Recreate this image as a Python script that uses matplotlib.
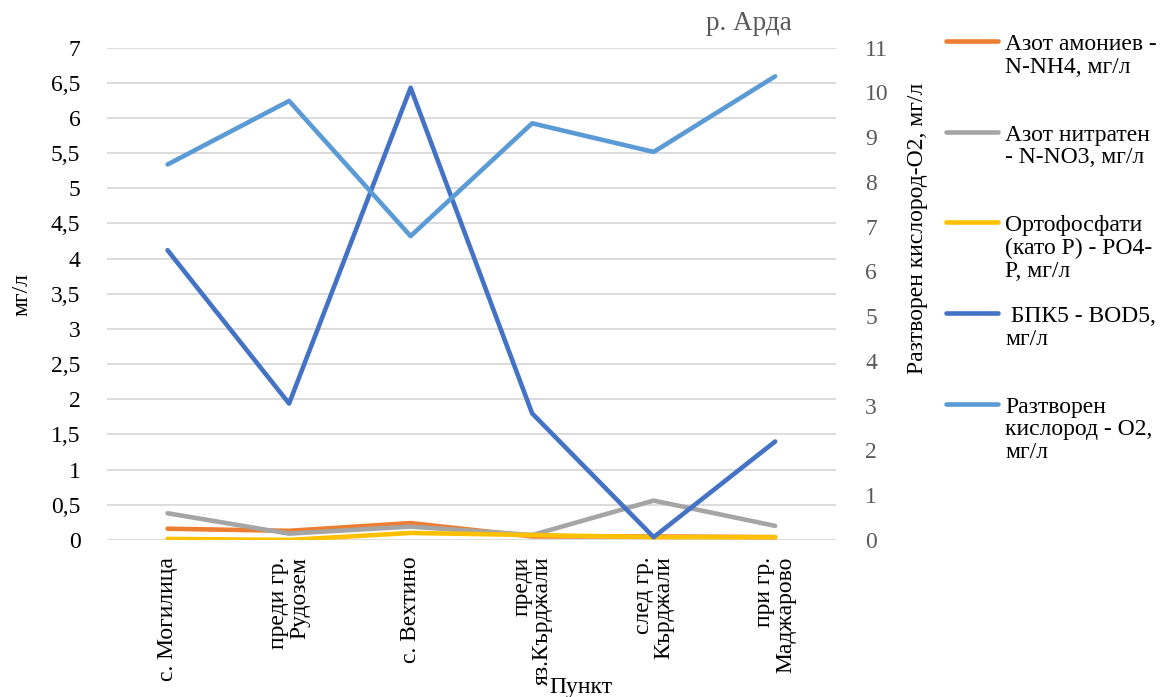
"""River Arda water quality by sampling point (two y axes)."""
import matplotlib

matplotlib.use("Agg")
import matplotlib.pyplot as plt
from matplotlib.lines import Line2D
from matplotlib.ticker import FuncFormatter, MultipleLocator

plt.rcParams["font.family"] = ["Liberation Serif", "DejaVu Serif"]

points = ["с. Могилица", "преди гр.\nРудозем", "с. Вехтино",
          "преди\nяз.Кърджали", "след гр.\nКърджали", "при гр.\nМаджарово"]
ammonium = [0.16, 0.13, 0.24, 0.05, 0.05, 0.04]
nitrate = [0.38, 0.09, 0.19, 0.07, 0.56, 0.20]
phosphate = [0.015, 0.0, 0.10, 0.07, 0.04, 0.04]
bod5 = [4.12, 1.94, 6.43, 1.80, 0.04, 1.40]
oxygen = [8.39, 9.81, 6.79, 9.31, 8.67, 10.36]

labels = ["Азот амониев -\nN-NH4, мг/л",
          "Азот нитратен\n- N-NO3, мг/л",
          "Ортофосфати\n(като Р) - PO4-\nP, мг/л",
          " БПК5 - BOD5,\nмг/л",
          "Разтворен\nкислород - O2,\nмг/л"]
colors = ["#ED7D31", "#A5A5A5", "#FFC000", "#4472C4", "#5B9BD5"]

FS = 17
fig = plt.figure(figsize=(11.61, 6.97), dpi=100)
ax = fig.add_axes([0.092, 0.2253, 0.628, 0.7063])
ax2 = ax.twinx()

x = range(len(points))
lw = 3.3
lines = []
for vals, c in zip([ammonium, nitrate, phosphate, bod5], colors[:4]):
    lines += ax.plot(x, vals, color=c, lw=lw, solid_capstyle="round", zorder=3)
lines += ax2.plot(x, oxygen, color=colors[4], lw=lw, solid_capstyle="round", zorder=3)

ax.set_xlim(-0.5, len(points) - 0.5)
ax.set_ylim(0, 7)
ax2.set_ylim(0, 11)
ax.yaxis.set_major_locator(MultipleLocator(0.5))
ax2.yaxis.set_major_locator(MultipleLocator(1))
ax.yaxis.set_major_formatter(FuncFormatter(lambda v, p: f"{v:g}".replace(".", ",")))
ax.grid(axis="y", color="#D9D9D9", lw=1.3)
ax.set_axisbelow(True)

for a in (ax, ax2):
    for s in a.spines.values():
        s.set_visible(False)
    a.tick_params(length=0, labelsize=FS)
ax.tick_params(axis="y", pad=19, labelcolor="#000000")
ax2.tick_params(axis="y", pad=21, labelcolor="#595959")

ax.set_xticks(list(x))
ax.set_xticklabels(points, rotation=90, va="top", ha="center",
                   multialignment="right", fontsize=FS, linespacing=1.0)
ax.tick_params(axis="x", pad=12)

fig.text(0.019, 0.578, "мг/л", rotation=90, ha="center", va="center", fontsize=FS)
fig.text(0.79, 0.672, "Разтворен кислород-O2, мг/л", rotation=90,
         ha="center", va="center", fontsize=FS)
fig.text(0.5, 0.014, "Пункт", ha="center", va="center", fontsize=FS)
fig.text(0.645, 0.966, "р. Арда", ha="center", va="center", fontsize=19.5,
         color="#595959")

# legend drawn by hand so every entry is evenly spaced like the original
top = 1 - 41 / 697
step = 90.7 / 697
for i, (ln, lab) in enumerate(zip(lines, labels)):
    y = top - i * step
    fig.add_artist(Line2D([0.815, 0.860], [y, y], transform=fig.transFigure,
                          color=ln.get_color(), lw=lw, solid_capstyle="round"))
    fig.text(0.866, y + 0.01, lab, ha="left", va="top", fontsize=FS,
             linespacing=1.1)

fig.savefig("out.png", dpi=100)
